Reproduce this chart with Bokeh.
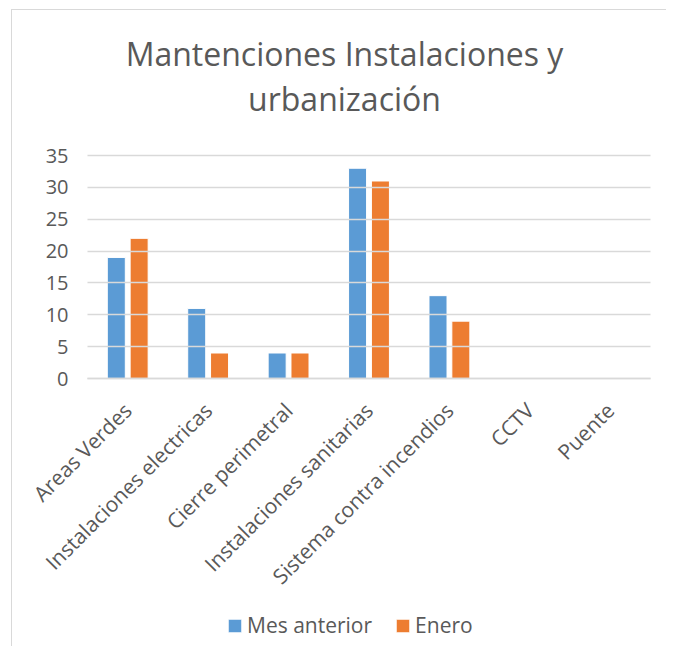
import math
from bokeh.plotting import figure
from bokeh.models import (ColumnDataSource, Range1d, FixedTicker,
                          Label, Legend, LegendItem)
from bokeh.transform import dodge
from bokeh.embed import file_html
from bokeh.resources import INLINE

# ---- data ----
categories = ["Areas Verdes", "Instalaciones electricas", "Cierre perimetral",
              "Instalaciones sanitarias", "Sistema contra incendios", "CCTV", "Puente"]
mes_anterior = [19, 11, 4, 33, 13, 0, 0]
enero = [22, 4, 4, 31, 9, 0, 0]
y_ticks = [0, 5, 10, 15, 20, 25, 30, 35]
series_names = ["Mes anterior", "Enero"]
title_lines = ["Mantenciones Instalaciones y", "urbanización"]

# ---- layout (pixels) ----
W, H = 655, 637
ZERO_ROW = 368            # pixel row of value 0 inside the figure
PX = 223 / 35             # pixels per value unit
AXIS_COL = 75             # pixel column of the category axis start
PLOT_W = 563              # width of the category area in pixels
CAT_PX = PLOT_W / len(categories)
TEXT = "#595959"
GRID = "#d9d9d9"
FONT = "Open Sans"

def ydata(row):
    return (ZERO_ROW - row) / PX

def xdata(col):
    return -0.5 + (col - AXIS_COL) / CAT_PX

positions = list(range(len(categories)))
source = ColumnDataSource(dict(pos=positions, mes=mes_anterior, ene=enero))

p = figure(x_range=Range1d(xdata(0), xdata(W)),
           y_range=Range1d(ydata(H), ydata(0)),
           width=W, height=H, output_backend="svg", toolbar_location=None,
           min_border_left=0, min_border_right=0, min_border_top=0,
           min_border_bottom=0)
p.styles = {"margin-left": "11px", "margin-top": "9px",
            "border-left": "1px solid #d9d9d9", "border-top": "1px solid #d9d9d9"}
p.outline_line_color = None
p.background_fill_color = "white"
p.border_fill_color = "white"
p.xgrid.visible = False
p.ygrid.visible = False

r1 = p.vbar(x=dodge("pos", -0.142), top="mes", width=0.224,
            source=source, fill_color="#5B9BD5", line_color="white", line_width=1)
r2 = p.vbar(x=dodge("pos", 0.142), top="ene", width=0.224,
            source=source, fill_color="#ED7D31", line_color="white", line_width=1)

# value axis: its inward ticks act as the gridlines across the category area
yax = p.yaxis[0]
yax.fixed_location = -0.5
yax.ticker = FixedTicker(ticks=y_ticks)
yax.bounds = (y_ticks[0], y_ticks[-1])
yax.axis_line_color = None
yax.major_tick_in = PLOT_W
yax.major_tick_out = 0
yax.major_tick_line_color = GRID
yax.major_tick_line_width = 1.5
yax.minor_tick_line_color = None
yax.major_label_standoff = 19
yax.major_label_text_font = FONT
yax.major_label_text_font_size = "20px"
yax.major_label_text_color = TEXT

# category axis
xax = p.xaxis[0]
xax.fixed_location = 0
xax.ticker = FixedTicker(ticks=positions)
xax.major_label_overrides = {i: c for i, c in zip(positions, categories)}
xax.bounds = (-0.5, len(categories) - 0.5)
xax.axis_line_color = GRID
xax.axis_line_width = 1.5
xax.major_tick_line_color = None
xax.minor_tick_line_color = None
xax.major_label_orientation = math.pi / 4
xax.major_label_standoff = 22
xax.major_label_text_font = FONT
xax.major_label_text_font_size = "21px"
xax.major_label_text_color = TEXT

# title (two centred lines)
title_center = 332
for txt, row in zip(title_lines, [43, 88]):
    p.add_layout(Label(x=title_center, y=ydata(row), x_units="screen", y_units="data",
                       text=txt, text_align="center", text_baseline="alphabetic",
                       text_font=FONT, text_font_size="32px", text_color=TEXT))

legend = Legend(items=[LegendItem(label=series_names[0], renderers=[r1]),
                       LegendItem(label=series_names[1], renderers=[r2])],
                orientation="horizontal", location=(214, 8),
                glyph_width=17, glyph_height=17, label_standoff=4, spacing=22,
                padding=0, margin=0, border_line_color=None,
                background_fill_alpha=0, label_text_font=FONT,
                label_text_font_size="21px", label_text_color=TEXT)
p.add_layout(legend, "center")

open("out.html", "w").write(file_html(p, INLINE))
